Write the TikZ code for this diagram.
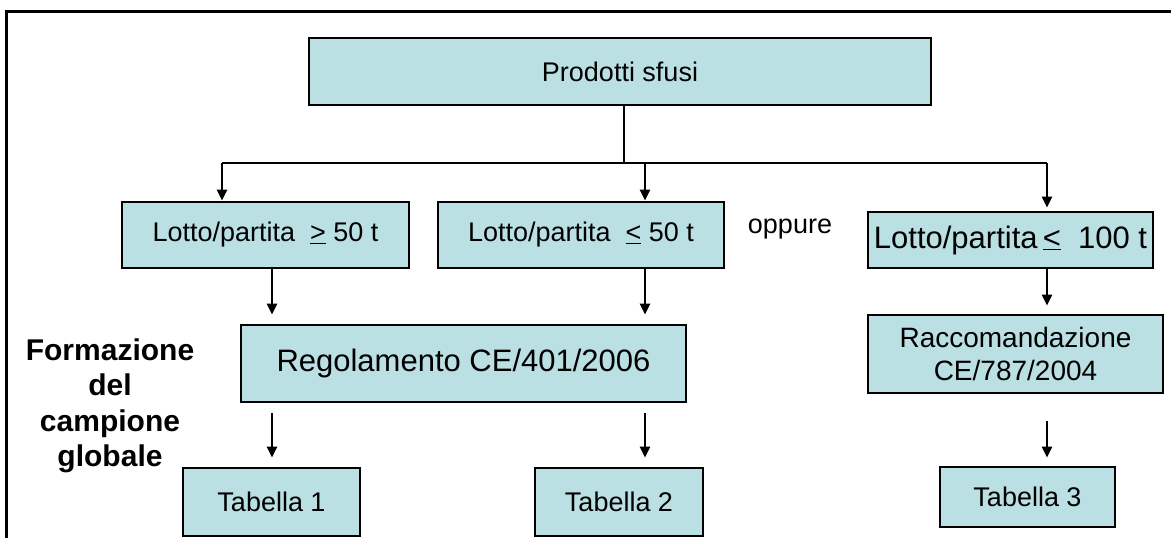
\documentclass[tikz,border=0pt]{standalone}
\usepackage{fontspec}
\setmainfont{Liberation Sans}
\usetikzlibrary{arrows.meta}
\definecolor{boxfill}{RGB}{187,224,227}
\tikzset{
  box/.style={draw=black, line width=2.8pt, fill=boxfill, inner sep=0pt, align=center},
  conn/.style={line width=2.2pt, draw=black},
  arr/.style={conn, -{Triangle[length=11pt,width=10pt]}},
  ftA/.style={font=\fontsize{27}{32}\selectfont},
  ftB/.style={font=\fontsize{31}{36}\selectfont},
}
\begin{document}
\begin{tikzpicture}[x=1pt,y=-1pt]
\useasboundingbox (0,0) rectangle (1171,538);
% frame
\draw[line width=3pt] (6,538) -- (6,11) -- (1171,11);
% column coordinates
\coordinate (xL1) at (222,0);
\coordinate (xL2) at (272,0);
\coordinate (xM1) at (624,0);
\coordinate (xM2) at (645,0);
\coordinate (xR) at (1047,0);
\coordinate (hl) at (0,163);
% boxes
\node[box, ftA, minimum width=622pt, minimum height=67pt] (prod) at (620,71.5) {Prodotti sfusi};
\node[box, ftA, minimum width=287pt, minimum height=66pt] (lotA) at (265.5,235) {Lotto/partita \ \underline{>} 50 t};
\node[box, ftA, minimum width=286pt, minimum height=66pt] (lotB) at (581,235) {Lotto/partita \ \underline{<} 50 t};
\node[box, ftB, minimum width=285pt, minimum height=56pt] (lotC) at (1010.5,240) {Lotto/partita\,\underline{<}\ \ 100 t};
\node[ftA] (opp) at (790,229) {oppure};
\node[box, ftB, minimum width=445pt, minimum height=77pt] (reg) at (463.5,363.5) {Regolamento CE/401/2006};
\node[box, font=\fontsize{28}{33}\selectfont, minimum width=295pt, minimum height=78pt] (racc) at (1015.5,354) {Raccomandazione\\CE/787/2004};
\node[box, ftA, minimum width=177pt, minimum height=68pt] (t1) at (271.5,502) {Tabella 1};
\node[box, ftA, minimum width=168pt, minimum height=68pt] (t2) at (619,502) {Tabella 2};
\node[box, ftA, minimum width=175pt, minimum height=60pt] (t3) at (1027.5,497) {Tabella 3};
\node[align=center, font=\fontsize{30}{35.5}\selectfont\bfseries] (form) at (110,406) {Formazione\\del\\campione\\globale};
% connectors
\draw[conn] (prod.south -| xM1) -- (hl -| xM1);
\draw[conn] (hl -| xL1) -- (hl -| xR);
\draw[arr] (hl -| xL1) -- (lotA.north -| xL1);
\draw[arr] (hl -| xM2) -- (lotB.north -| xM2);
\draw[arr, shorten >=3pt] (hl -| xR) -- (lotC.north -| xR);
\draw[arr, shorten >=9pt] (lotA.south -| xL2) -- (reg.north -| xL2);
\draw[arr, shorten >=9pt] (lotB.south -| xM2) -- (reg.north -| xM2);
\draw[arr, shorten >=8pt] (lotC.south -| xR) -- (racc.north -| xR);
\draw[arr, shorten <=10pt, shorten >=9pt] (reg.south -| xL2) -- (t1.north -| xL2);
\draw[arr, shorten <=10pt, shorten >=9pt] (reg.south -| xM2) -- (t2.north -| xM2);
\draw[arr, shorten <=27pt, shorten >=8pt] (racc.south -| xR) -- (t3.north -| xR);
\end{tikzpicture}
\end{document}
